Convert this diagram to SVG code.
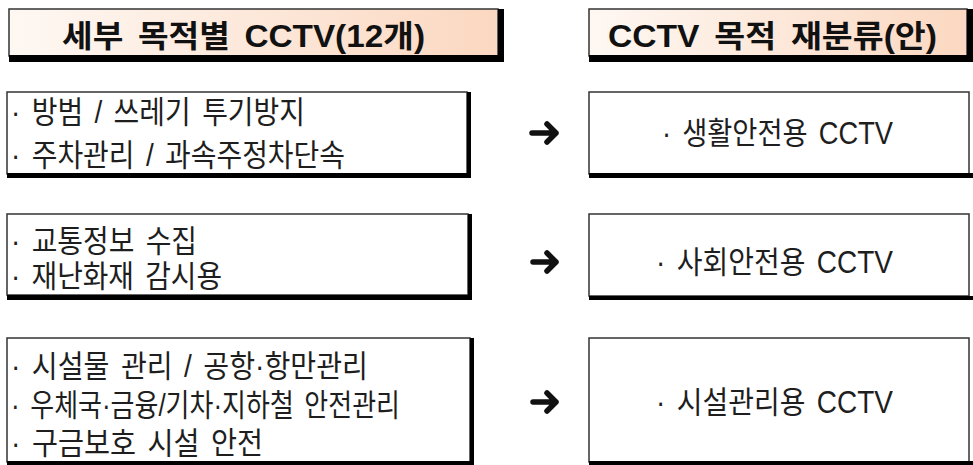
<svg xmlns="http://www.w3.org/2000/svg" width="973" height="465" viewBox="0 0 973 465">
<defs>
<linearGradient id="hdr" x1="0" y1="0" x2="1" y2="0">
<stop offset="0" stop-color="#fef8f3"/>
<stop offset="1" stop-color="#fbd8c1"/>
</linearGradient>
<style>
.box{fill:#fff;stroke:#333;stroke-width:1.5}
.hbox{fill:url(#hdr);stroke:#333;stroke-width:1.5}
.sh{fill:#000}
.t{font-family:"Liberation Sans","Noto Sans CJK KR",sans-serif;font-size:31px;fill:#1e1e1e;word-spacing:4px}
.h{font-family:"Liberation Sans","Noto Sans CJK KR",sans-serif;font-size:31px;font-weight:bold;fill:#111;word-spacing:5px}
.arr{fill:none;stroke:#111;stroke-width:5.5;stroke-linecap:round;stroke-linejoin:round}
</style>
</defs>
<rect width="973" height="465" fill="#fff"/>

<g id="header-left">
<rect class="hbox" x="9" y="9" width="489" height="47"/>
<rect class="sh" x="9" y="55" width="495" height="7"/>
<rect class="sh" x="498" y="9" width="6" height="53"/>
<text class="h" x="62" y="47" textLength="363" lengthAdjust="spacingAndGlyphs">세부 목적별 CCTV(12개)</text>
</g>

<g id="header-right">
<rect class="hbox" x="589" y="9" width="378" height="47"/>
<rect class="sh" x="589" y="55" width="384" height="7"/>
<rect class="sh" x="967" y="9" width="6" height="53"/>
<text class="h" x="608" y="47" textLength="329" lengthAdjust="spacingAndGlyphs">CCTV 목적 재분류(안)</text>
</g>

<g id="left-1">
<rect class="box" x="7" y="92" width="460" height="82"/>
<rect class="sh" x="7" y="173" width="464" height="5"/>
<rect class="sh" x="467" y="92" width="4" height="86"/>
<text class="t" x="11" y="123" textLength="294" lengthAdjust="spacingAndGlyphs">· 방범 / 쓰레기 투기방지</text>
<text class="t" x="11" y="166" textLength="334" lengthAdjust="spacingAndGlyphs">· 주차관리 / 과속주정차단속</text>
</g>

<g id="left-2">
<rect class="box" x="7" y="214" width="461" height="81"/>
<rect class="sh" x="7" y="295" width="465" height="5"/>
<rect class="sh" x="468" y="214" width="4" height="86"/>
<text class="t" x="11" y="252" textLength="186" lengthAdjust="spacingAndGlyphs">· 교통정보 수집</text>
<text class="t" x="11" y="287" textLength="211" lengthAdjust="spacingAndGlyphs">· 재난화재 감시용</text>
</g>

<g id="left-3">
<rect class="box" x="7" y="338" width="463" height="124"/>
<rect class="sh" x="7" y="461" width="467" height="5"/>
<rect class="sh" x="470" y="338" width="4" height="128"/>
<text class="t" x="11" y="377" textLength="357" lengthAdjust="spacingAndGlyphs">· 시설물 관리 / 공항·항만관리</text>
<text class="t" x="11" y="416" textLength="389" lengthAdjust="spacingAndGlyphs">· 우체국·금융/기차·지하철 안전관리</text>
<text class="t" x="11" y="454" textLength="252" lengthAdjust="spacingAndGlyphs">· 구금보호 시설 안전</text>
</g>

<g id="right-1">
<rect class="box" x="589" y="92" width="380" height="82"/>
<rect class="sh" x="589" y="173" width="384" height="5"/>
<text class="t" x="662" y="144" textLength="231" lengthAdjust="spacingAndGlyphs">· 생활안전용 CCTV</text>
</g>

<g id="right-2">
<rect class="box" x="589" y="214" width="380" height="82"/>
<rect class="sh" x="589" y="296" width="384" height="4" fill="#222"/>
<text class="t" x="656" y="273" textLength="237" lengthAdjust="spacingAndGlyphs">· 사회안전용 CCTV</text>
</g>

<g id="right-3">
<rect class="box" x="589" y="338" width="380" height="124"/>
<rect class="sh" x="589" y="461" width="384" height="5"/>
<text class="t" x="656" y="413" textLength="237" lengthAdjust="spacingAndGlyphs">· 시설관리용 CCTV</text>
</g>

<g id="connectors">
<path class="arr" d="M532,133 H556 M547,124 L556,133 L547,142"/>
<path class="arr" d="M533,262 H556 M547,253 L556,262 L547,271"/>
<path class="arr" d="M533,402 H556 M547,393 L556,402 L547,411"/>
</g>
</svg>
